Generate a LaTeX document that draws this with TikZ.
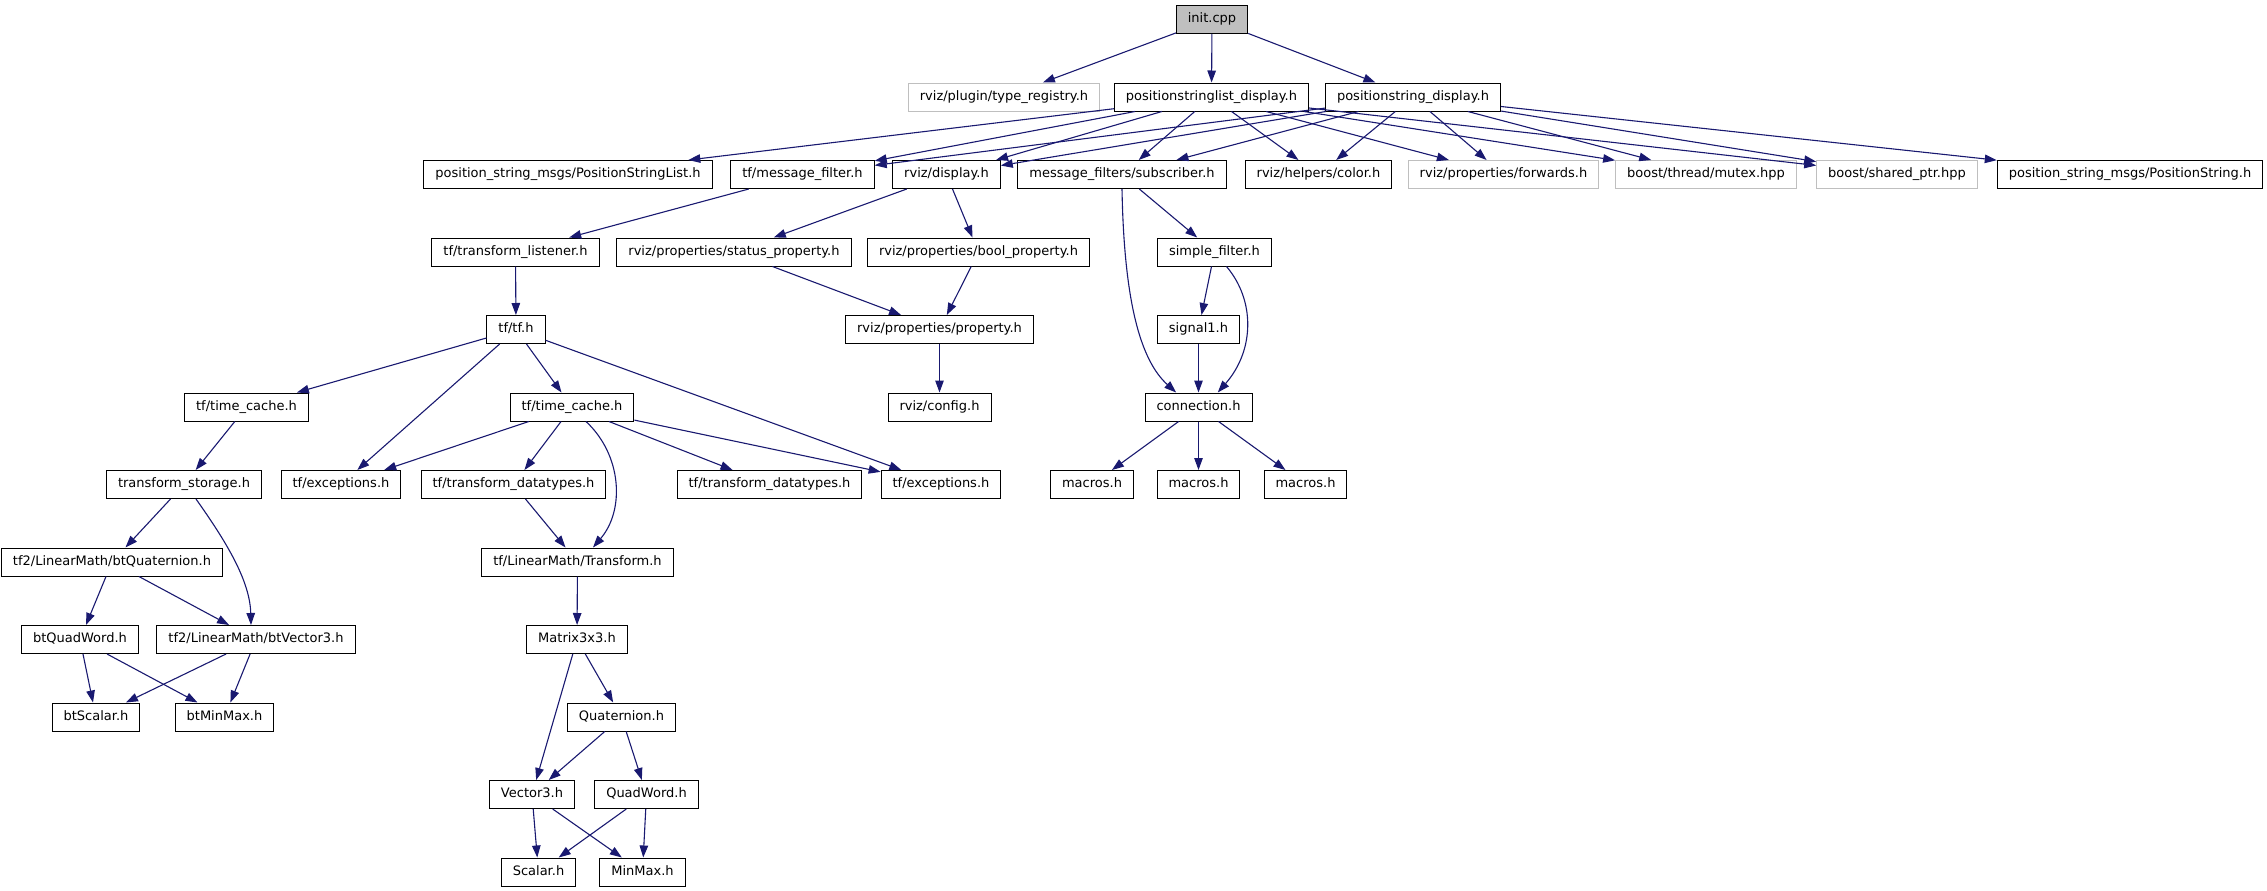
\documentclass[tikz,border=0pt]{standalone}
\usepackage{fontspec}
\setmainfont{DejaVu Sans}
\usetikzlibrary{arrows.meta}
\definecolor{MidNavy}{HTML}{191970}
\definecolor{Ash}{HTML}{BFBFBF}

\begin{document}
\begin{tikzpicture}[x=1pt,y=-1pt,>={Triangle[length=12pt,width=8.5pt]},
  hdr/.style={draw=black,line width=1pt,fill=white,inner xsep=11.5pt,
    minimum height=28pt,text height=9.8pt,text depth=2.9pt,
    font=\fontsize{13}{15}\selectfont},
  ext/.style={hdr,draw=Ash},
  dep/.style={->,MidNavy,line width=1.1pt}]
  \useasboundingbox (0,0) rectangle (2267,891);
  % top rows
  \node[hdr,fill=Ash] (init) at (1212,19.5) {init.cpp};
  \node[ext] (typereg) at (1004,97) {rviz/plugin/type\_registry.h};
  \node[hdr] (psldisp) at (1211.5,97) {positionstringlist\_display.h};
  \node[hdr] (psdisp) at (1413,97) {positionstring\_display.h};
  \node[hdr] (pslmsg) at (568,174.5) {position\_string\_msgs/PositionStringList.h};
  \node[hdr] (msgfilter) at (802.5,174.5) {tf/message\_filter.h};
  \node[hdr] (display) at (946.5,174.5) {rviz/display.h};
  \node[hdr] (subscriber) at (1122,174.5) {message\_filters/subscriber.h};
  \node[hdr] (color) at (1318.5,174.5) {rviz/helpers/color.h};
  \node[ext] (forwards) at (1503.5,174.5) {rviz/properties/forwards.h};
  \node[ext] (mutex) at (1706,174.5) {boost/thread/mutex.hpp};
  \node[ext] (sharedptr) at (1897,174.5) {boost/shared\_ptr.hpp};
  \node[hdr] (psmsg) at (2130,174.5) {position\_string\_msgs/PositionString.h};
  \node[hdr] (listener) at (515.5,252) {tf/transform\_listener.h};
  \node[hdr] (status) at (734,252) {rviz/properties/status\_property.h};
  \node[hdr] (boolprop) at (978.5,252) {rviz/properties/bool\_property.h};
  \node[hdr] (simple) at (1214.5,252) {simple\_filter.h};
  \node[hdr] (tf) at (516,329.5) {tf/tf.h};
  \node[hdr] (property) at (939.5,329.5) {rviz/properties/property.h};
  \node[hdr] (signal) at (1198.5,329.5) {signal1.h};
  \node[hdr] (tcacheA) at (246.5,407) {tf/time\_cache.h};
  \node[hdr] (tcacheB) at (572,407) {tf/time\_cache.h};
  \node[hdr] (config) at (939.5,407) {rviz/config.h};
  \node[hdr] (connection) at (1198.5,407) {connection.h};
  \node[hdr] (storage) at (184,484.5) {transform\_storage.h};
  \node[hdr] (excA) at (341,484.5) {tf/exceptions.h};
  \node[hdr] (dtypesA) at (513.5,484.5) {tf/transform\_datatypes.h};
  \node[hdr] (dtypesB) at (769.5,484.5) {tf/transform\_datatypes.h};
  \node[hdr] (excB) at (941,484.5) {tf/exceptions.h};
  \node[hdr] (macrosA) at (1092,484.5) {macros.h};
  \node[hdr] (macrosB) at (1198.5,484.5) {macros.h};
  \node[hdr] (macrosC) at (1305.5,484.5) {macros.h};
  % linear math part
  \node[hdr] (btquat) at (112,562) {tf2/LinearMath/btQuaternion.h};
  \node[hdr] (transform) at (577.5,562) {tf/LinearMath/Transform.h};
  \node[hdr] (btquadword) at (80,639.5) {btQuadWord.h};
  \node[hdr] (btvector) at (256,639.5) {tf2/LinearMath/btVector3.h};
  \node[hdr] (matrix) at (577,639.5) {Matrix3x3.h};
  \node[hdr] (btscalar) at (96,717) {btScalar.h};
  \node[hdr] (btminmax) at (224.5,717) {btMinMax.h};
  \node[hdr] (quaternion) at (621.5,717) {Quaternion.h};
  \node[hdr] (vector3) at (532,794.5) {Vector3.h};
  \node[hdr] (quadword) at (646.5,794.5) {QuadWord.h};
  \node[hdr] (scalar) at (538.5,872) {Scalar.h};
  \node[hdr] (minmax) at (642.5,872) {MinMax.h};

  \draw[dep] (init) edge (typereg) edge (psldisp) edge (psdisp);
  \draw[dep] (psldisp) edge (pslmsg) edge (msgfilter) edge (display) edge (subscriber)
    edge (color) edge (forwards) edge (mutex) edge (sharedptr);
  \draw[dep] (psdisp) edge (msgfilter) edge (display) edge (subscriber) edge (color)
    edge (forwards) edge (mutex) edge (sharedptr) edge (psmsg);
  \draw[dep] (msgfilter) -- (listener);
  \draw[dep] (display) edge (status) edge (boolprop);
  \draw[dep] (subscriber) edge (simple);
  \draw[dep] (subscriber.south) .. controls (1124,300) and (1140,360) .. (connection.147);
  \draw[dep] (listener) -- (tf);
  \draw[dep] (status) edge (property);
  \draw[dep] (boolprop) edge (property);
  \draw[dep] (property) -- (config);
  \draw[dep] (simple) -- (signal);
  \draw[dep] ([xshift=12pt]simple.south) .. controls (1255,300) and (1255,350) .. (connection.37);
  \draw[dep] (signal) -- (connection);
  \draw[dep] (connection) edge (macrosA) edge (macrosB) edge (macrosC);
  \draw[dep] (tf) edge (tcacheA) edge (excA) edge (tcacheB) edge (excB);
  \draw[dep] (tcacheA) -- (storage);
  \draw[dep] (tcacheB) edge (excA) edge (dtypesA) edge (dtypesB) edge (excB);
  \draw[dep] ([xshift=14pt]tcacheB.south) .. controls (622,455) and (625,510) .. ([xshift=15.5pt]transform.north);
  \draw[dep] (dtypesA) -- (transform);
  \draw[dep] (storage) -- (btquat);
  \draw[dep] ([xshift=12pt]storage.south) .. controls (225,540) and (250,580) .. ([xshift=-5pt]btvector.north);
  \draw[dep] (btquat) edge (btquadword) edge (btvector);
  \draw[dep] (btquadword) edge (btscalar) edge (btminmax);
  \draw[dep] (btvector) edge (btscalar) edge (btminmax);
  \draw[dep] (transform) -- (matrix);
  \draw[dep] (matrix) edge (vector3) edge (quaternion);
  \draw[dep] (quaternion) edge (vector3) edge (quadword);
  \draw[dep] (vector3) edge (scalar) edge (minmax);
  \draw[dep] (quadword) edge (scalar) edge (minmax);
\end{tikzpicture}
\end{document}
